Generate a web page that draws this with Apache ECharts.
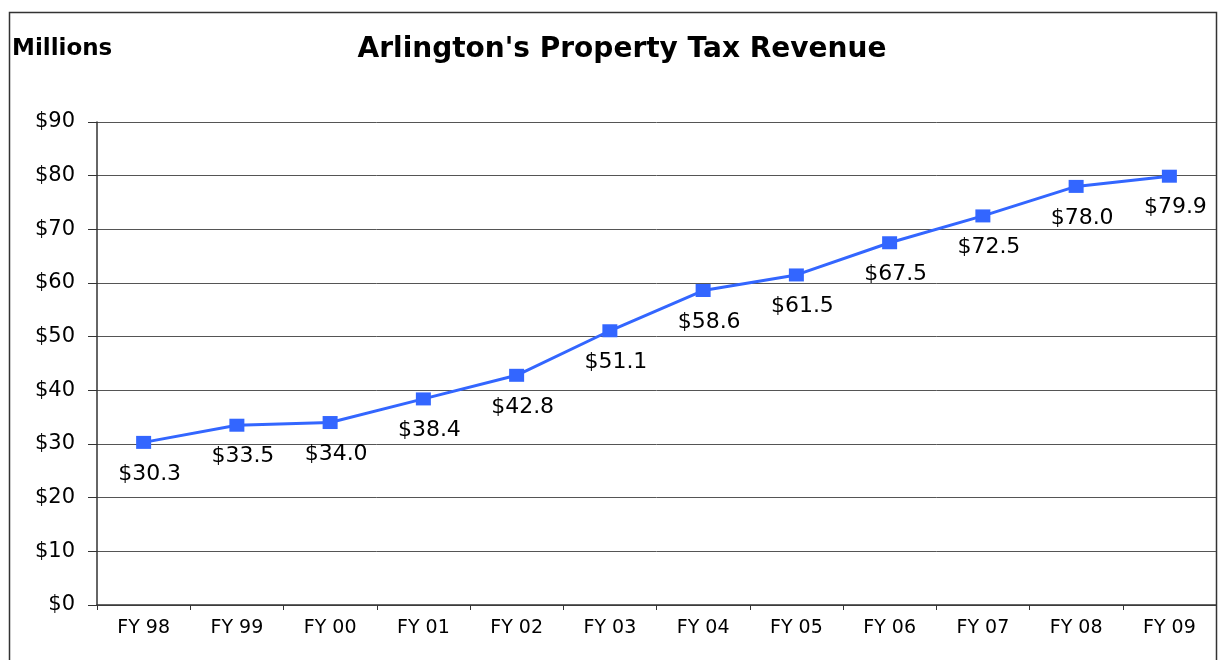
<!DOCTYPE html>
<html>
<head>
<meta charset="utf-8">
<script src="https://cdn.jsdelivr.net/npm/echarts@6/dist/echarts.min.js"></script>
<style>
  html, body { margin: 0; padding: 0; background: #fff; }
  #chart { width: 1220px; height: 660px; }
</style>
</head>
<body>
<div id="chart"></div>
<script>
// fiscal years on the x axis
let years = ['FY 98', 'FY 99', 'FY 00', 'FY 01', 'FY 02', 'FY 03', 'FY 04', 'FY 05', 'FY 06', 'FY 07', 'FY 08', 'FY 09']

// property tax revenue, millions of dollars
let revenue = [30.3, 33.5, 34.0, 38.4, 42.8, 51.1, 58.6, 61.5, 67.5, 72.5, 78.0, 79.9]

// the reference text is wide, DejaVu gets closer than Arial here
let fontName = '"DejaVu Sans", "Liberation Sans", Arial, sans-serif'

let chart = echarts.init(document.getElementById('chart'))

let option = {
    animation: false,
    textStyle: { fontFamily: fontName },
    graphic: [
        {
            // outer frame of the chart box
            type: 'rect',
            shape: { x: 9.5, y: 12.5, width: 1207, height: 700 },
            style: { fill: 'none', stroke: '#333', lineWidth: 1.5 }
        },
        {
            type: 'text',
            left: 12,
            top: 38,
            style: { text: 'Millions', font: 'bold 23px ' + fontName, fill: '#000' }
        },
        {
            // title sits a bit right of the page centre
            type: 'text',
            x: 622,
            y: 50,
            style: {
                text: "Arlington's Property Tax Revenue",
                font: 'bold 28px ' + fontName,
                fill: '#000',
                align: 'center',
                verticalAlign: 'middle'
            }
        }
    ],
    grid: { left: 97, right: 4, top: 122, bottom: 55 },
    xAxis: {
        type: 'category',
        data: years,
        boundaryGap: true,
        axisLine: { lineStyle: { color: '#333', width: 1.5 } },
        axisTick: { show: true, length: 5, alignWithLabel: false, lineStyle: { color: '#333' } },
        axisLabel: { color: '#000', fontSize: 19, margin: 14, fontFamily: fontName }
    },
    yAxis: {
        type: 'value',
        min: 0,
        max: 90,
        interval: 10,
        axisLine: { show: true, lineStyle: { color: '#333', width: 1.5 } },
        axisTick: { show: true, length: 9, lineStyle: { color: '#333' } },
        axisLabel: { color: '#000', fontSize: 21, margin: 22, fontFamily: fontName, formatter: '${value}' },
        splitLine: { show: true, lineStyle: { color: '#555', width: 1 } }
    },
    series: [{
        type: 'line',
        data: revenue,
        symbol: 'rect',
        symbolSize: [15, 13],
        itemStyle: { color: '#3366FF' },
        lineStyle: { color: '#3366FF', width: 3 },
        label: {
            show: true,
            position: 'bottom',
            distance: 14,
            offset: [6, 0],
            color: '#000',
            fontSize: 22,
            fontFamily: fontName,
            formatter: function(p) {
                return '$' + p.value.toFixed(1)
            }
        }
    }]
}

chart.setOption(option)
</script>
</body>
</html>
